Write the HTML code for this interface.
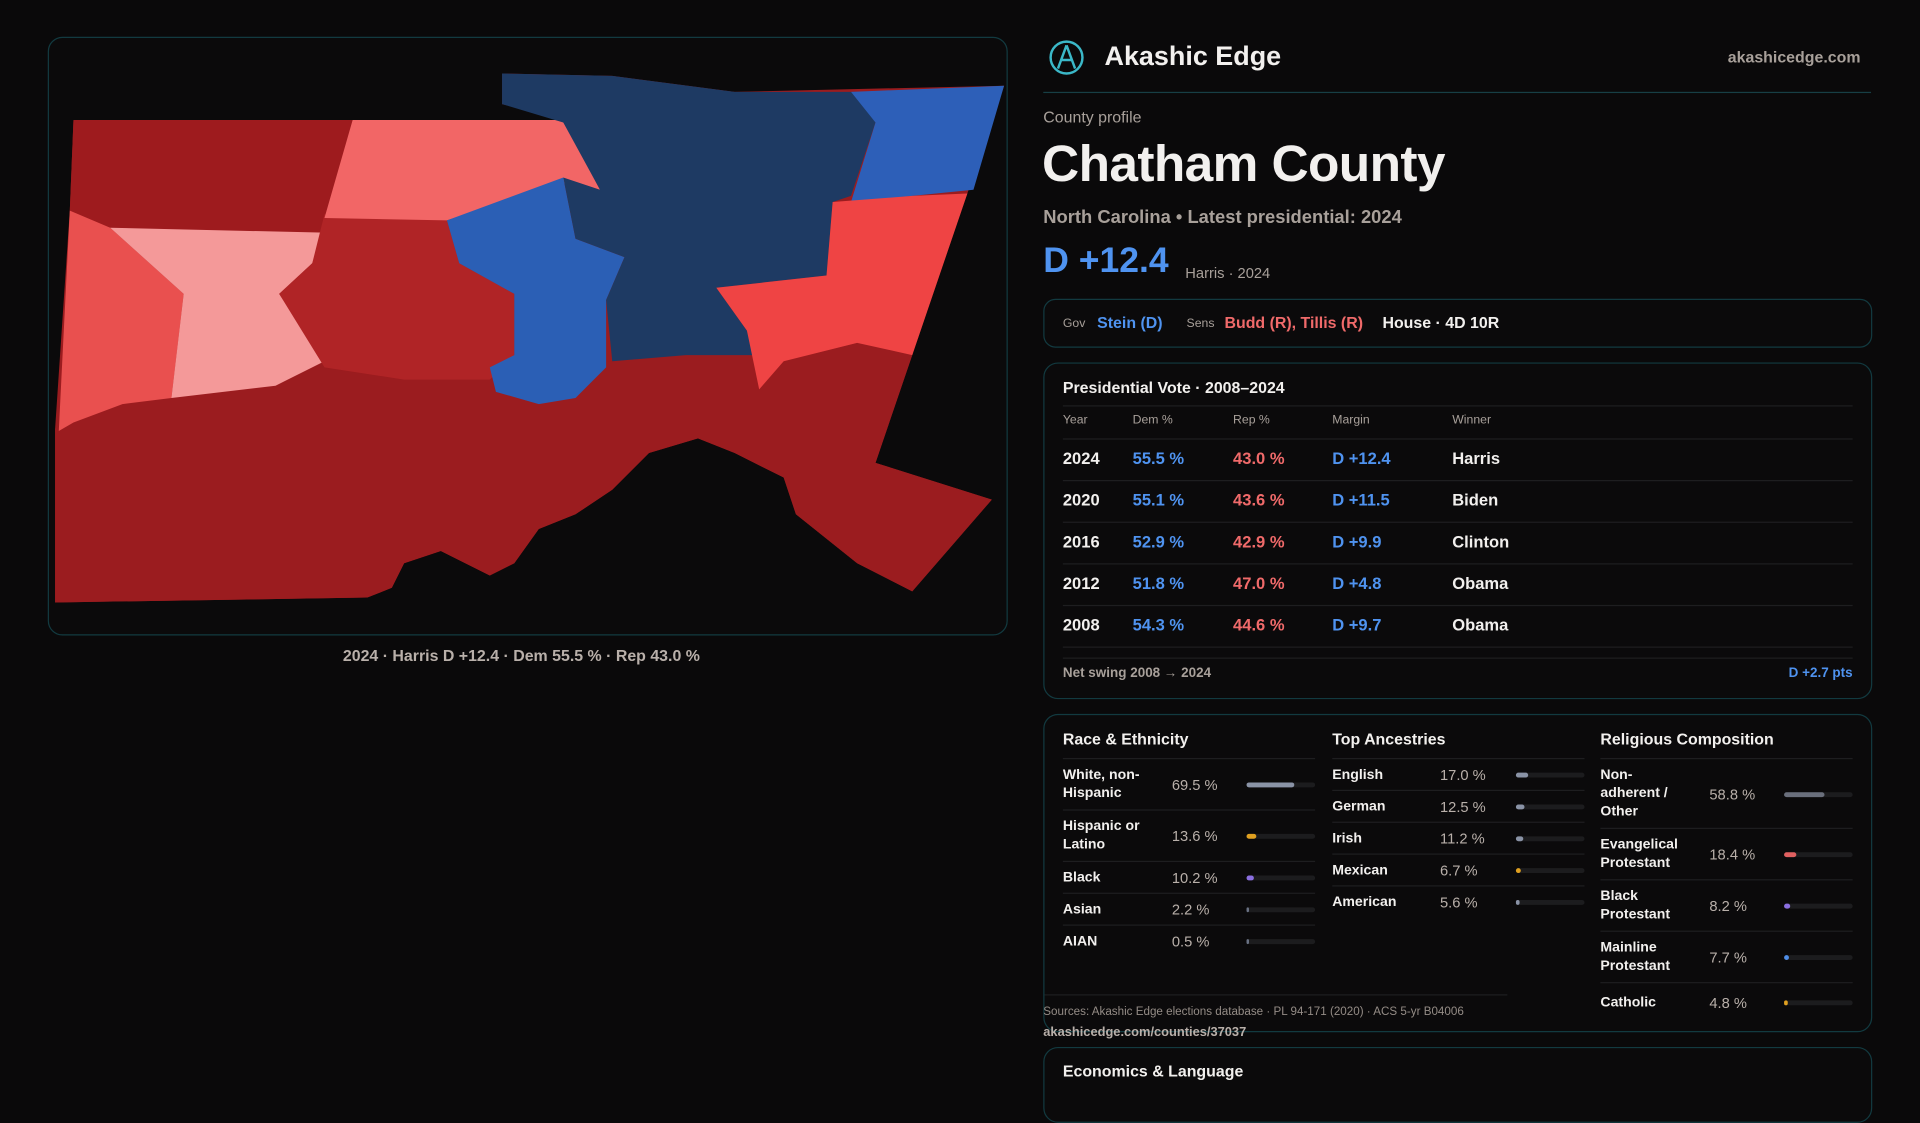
<!DOCTYPE html>
<html><head><meta charset="utf-8"><style>
html,body{margin:0;padding:0;background:#0a090a;width:1920px;height:1080px;overflow:hidden}
#w{position:absolute;left:0;top:0;width:1568px;height:882px;transform:scale(1.22449);transform-origin:0 0;font-family:"Liberation Sans",sans-serif;color:#f2f0ee}
.a{position:absolute;white-space:nowrap}
.panel{position:absolute;border:1px solid #123a40;border-radius:12px;background:#0b0a0b}
.muted{color:#a8a09a}
.blue{color:#4f93f0}.red{color:#f06a6a}
.row{position:absolute;left:15px;right:15px;border-top:1px solid #1e1e20}
.tr{position:absolute;font-size:14px;font-weight:bold}
.lbl{position:absolute;font-size:12px;font-weight:bold;line-height:15px;color:#f2f0ee}
.pct{position:absolute;font-size:12px;color:#b9b0aa}
.trk{position:absolute;height:4px;border-radius:2px;background:#1c1c1e}
.bar{position:absolute;left:0;top:0;height:4px;border-radius:2px}
</style></head><body>
<div id="w">
<div class="panel" style="left:39px;top:30px;width:782px;height:487px">
<svg width="782" height="487" viewBox="40 31 782 487">
<polygon fill="#9b1c1f" points="60,98 460,98 410,85 410,60 500,62 600,75 820,70 790,158 745,290 715,378 810,408 745,483 700,460 650,420 640,390 600,370 570,358 530,370 500,400 470,420 440,432 420,460 400,470 360,450 330,460 320,480 300,488 45,492 45,350 57,172"/>
<polygon fill="#9b1c1f" points="45,350 60,340 100,330 180,310 260,300 330,310 360,300 400,310 450,300 500,295 560,290 600,285 640,295 700,280 745,290 715,378 810,408 745,483 700,460 650,420 640,390 600,370 570,358 530,370 500,400 470,420 440,432 420,460 400,470 360,450 330,460 320,480 300,488 45,492"/>
<polygon fill="#9e1b1e" points="60,98 288,98 265,190 90,186 57,172"/>
<polygon fill="#e9504f" points="57,172 90,186 150,240 143,300 140,325 100,330 60,345 48,352"/>
<polygon fill="#f49999" points="90,186 265,190 255,215 228,240 265,295 225,315 140,325 150,240"/>
<polygon fill="#b02426" points="265,175 365,180 375,215 420,240 420,290 400,310 330,310 265,300 228,240 255,215"/>
<polygon fill="#f26666" points="288,98 460,98 490,155 460,150 365,180 265,178"/>
<polygon fill="#2b5fb5" points="365,180 460,145 470,195 510,210 495,245 495,300 470,325 440,330 405,320 400,300 420,290 420,240 375,215"/>
<polygon fill="#1e3a63" points="410,60 500,62 600,75 700,75 715,100 695,160 680,165 675,225 585,235 610,270 615,290 560,290 500,295 495,245 510,210 470,195 460,145 490,155 460,100 410,85"/>
<polygon fill="#2d5fb8" points="695,75 820,70 795,155 745,160 695,165 715,100"/>
<polygon fill="#ef4444" points="680,165 745,160 790,158 745,290 700,280 640,295 620,318 610,270 585,235 675,225"/>
</svg></div>
<div class="a muted" style="left:280px;top:528px;font-size:13px;font-weight:bold;color:#b9b0aa">2024 · Harris D +12.4 · Dem 55.5 % · Rep 43.0 %</div>

<svg class="a" style="left:855px;top:31px" width="32" height="32"><circle cx="16" cy="16" r="13" fill="none" stroke="#3bb8c8" stroke-width="2"/><path d="M16 6 L9 25 M16 6 L23 25 M11 18 L21 18" stroke="#3bb8c8" stroke-width="2" fill="none"/></svg>
<div class="a" style="left:902px;top:33px;font-size:22px;font-weight:bold">Akashic Edge</div>
<div class="a muted" style="left:1411px;top:39px;font-size:13px;font-weight:bold">akashicedge.com</div>
<div class="a" style="left:852px;top:75px;width:676px;height:1px;background:#173f45"></div>
<div class="a muted" style="left:852px;top:88px;font-size:13px">County profile</div>
<div class="a" style="left:851px;top:110px;font-size:42px;font-weight:bold;letter-spacing:-0.5px">Chatham County</div>
<div class="a muted" style="left:852px;top:169px;font-size:15px;font-weight:bold">North Carolina • Latest presidential: 2024</div>
<div class="a blue" style="left:852px;top:197px;font-size:29px;font-weight:bold">D +12.4</div>
<div class="a muted" style="left:968px;top:216px;font-size:12px">Harris · 2024</div>

<div class="panel" style="left:852px;top:244px;width:675px;height:38px;border-radius:10px">
<span class="a muted" style="left:15px;top:14px;font-size:10px">Gov</span>
<span class="a blue" style="left:43px;top:11px;font-size:13px;font-weight:bold">Stein (D)</span>
<span class="a muted" style="left:116px;top:14px;font-size:10px">Sens</span>
<span class="a red" style="left:147px;top:11px;font-size:13px;font-weight:bold">Budd (R), Tillis (R)</span>
<span class="a" style="left:276px;top:11px;font-size:13px;font-weight:bold">House · 4D 10R</span>
</div>

<div class="panel" id="pv" style="left:852px;top:296px;width:675px;height:273px">
<div class="a" style="left:15px;top:12px;font-size:13px;font-weight:bold">Presidential Vote · 2008–2024</div>
<div class="row" style="top:34px"></div>
<div class="a muted" style="left:15px;top:41px;font-size:10px">Year</div>
<div class="a muted" style="left:72px;top:41px;font-size:10px">Dem %</div>
<div class="a muted" style="left:154px;top:41px;font-size:10px">Rep %</div>
<div class="a muted" style="left:235px;top:41px;font-size:10px">Margin</div>
<div class="a muted" style="left:333px;top:41px;font-size:10px">Winner</div>
<div class="row" style="top:61px"></div>
<div class="row" style="top:240px"></div>
<div class="a muted" style="left:15px;top:247px;font-size:11px;font-weight:bold">Net swing 2008 → 2024</div>
<div class="a blue" style="right:15px;top:247px;font-size:11px;font-weight:bold">D +2.7 pts</div>
</div>

<div class="panel" id="demo" style="left:852px;top:583px;width:675px;height:258px">
<div class="a" style="left:15px;top:12px;font-size:13px;font-weight:bold">Race &amp; Ethnicity</div>
<div class="a" style="left:235px;top:12px;font-size:13px;font-weight:bold">Top Ancestries</div>
<div class="a" style="left:454px;top:12px;font-size:13px;font-weight:bold">Religious Composition</div>
<div class="a" style="left:0;top:228px;width:378px;height:1px;background:#1e1e20"></div>
</div>
<div class="a" style="left:852px;top:821px;font-size:9.5px;color:#948c86">Sources: Akashic Edge elections database · PL 94-171 (2020) · ACS 5-yr B04006</div>
<div class="a" style="left:852px;top:837px;font-size:10.5px;color:#b9b0aa;font-weight:bold">akashicedge.com/counties/37037</div>
<div class="panel" style="left:852px;top:855px;width:675px;height:60px">
<div class="a" style="left:15px;top:11px;font-size:13px;font-weight:bold">Economics &amp; Language</div></div>
</div>
<script>
const years=["2024","2020","2016","2012","2008"];
const demPct=[55.5,55.1,52.9,51.8,54.3];
const repPct=[43.0,43.6,42.9,47.0,44.6];
const margins=["D +12.4","D +11.5","D +9.9","D +4.8","D +9.7"];
const winners=["Harris","Biden","Clinton","Obama","Obama"];
const raceLabels=["White, non-Hispanic","Hispanic or Latino","Black","Asian","AIAN"];
const raceVals=[69.5,13.6,10.2,2.2,0.5];
const ancLabels=["English","German","Irish","Mexican","American"];
const ancVals=[17.0,12.5,11.2,6.7,5.6];
const relLabels=["Non- adherent / Other","Evangelical Protestant","Black Protestant","Mainline Protestant","Catholic"];
const relVals=[58.8,18.4,8.2,7.7,4.8];
const raceColors=["#8a93a6","#e0a020","#8b6fe0","#6a7284","#6a7284"];
const ancColors=["#8a93a6","#8a93a6","#8a93a6","#e0a020","#8a93a6"];
const relColors=["#6a6f7c","#e06060","#8b6fe0","#4f8ee8","#e0a020"];
const pv=document.getElementById('pv');
years.forEach((y,i)=>{
  const top=70+i*34;
  const cells=[[y,15,'#f2f0ee','year'],[demPct[i].toFixed(1)+' %',72,'#4f93f0','dem-pct'],[repPct[i].toFixed(1)+' %',154,'#f06a6a','rep-pct'],[margins[i],235,'#4f93f0','margin'],[winners[i],333,'#f2f0ee','winner']];
  cells.forEach(c=>{const d=document.createElement('div');d.className='tr';d.style.left=c[1]+'px';d.style.top=top+'px';d.style.color=c[2];d.style.fontSize='13.5px';d.textContent=c[0];
  
  
  pv.appendChild(d);});
  const r=document.createElement('div');r.className='row';r.style.top=(top+25)+'px';
  
  
  pv.appendChild(r);
});
const demo=document.getElementById('demo');
function group(labels,vals,colors,x,heights,lw,pctX,trkX,name){
  let y=35;
  labels.forEach((l,i)=>{
    const h=heights[i];
    const row=document.createElement('div');row.className='a';row.style.left=x+'px';row.style.top=y+'px';row.style.width='206px';row.style.height=h+'px';row.style.borderTop='1px solid #1e1e20';
    
    
    const lb=document.createElement('div');lb.className='lbl';lb.style.left='0';lb.style.width=lw+'px';lb.style.whiteSpace='normal';lb.style.fontSize='11.5px';lb.textContent=l;
    const lines=Math.round((h-10)/15);lb.style.top=((h-lines*15)/2)+'px';
    
    
    const p=document.createElement('div');p.className='pct';p.style.left=pctX+'px';p.style.top=(h/2-7)+'px';p.textContent=vals[i].toFixed(1)+' %';
    
    
    const t=document.createElement('div');t.className='trk';t.style.left=trkX+'px';t.style.width=(206-trkX)+'px';t.style.top=(h/2-2)+'px';
    
    
    const b=document.createElement('div');b.className='bar';b.style.width=Math.max(2,(206-trkX)*vals[i]/100)+'px';b.style.background=colors[i];
    
    
    t.appendChild(b);row.append(lb,p,t);demo.appendChild(row);
    y+=h;
  });
}
group(raceLabels,raceVals,raceColors,15,[42,42,26,26,26],78,89,150,'race');
group(ancLabels,ancVals,ancColors,235,[26,26,26,26,26],78,88,150,'ancestry');
group(relLabels,relVals,relColors,454,[57,42,42,42,32],66,89,150,'religion');
</script>
</body></html>
